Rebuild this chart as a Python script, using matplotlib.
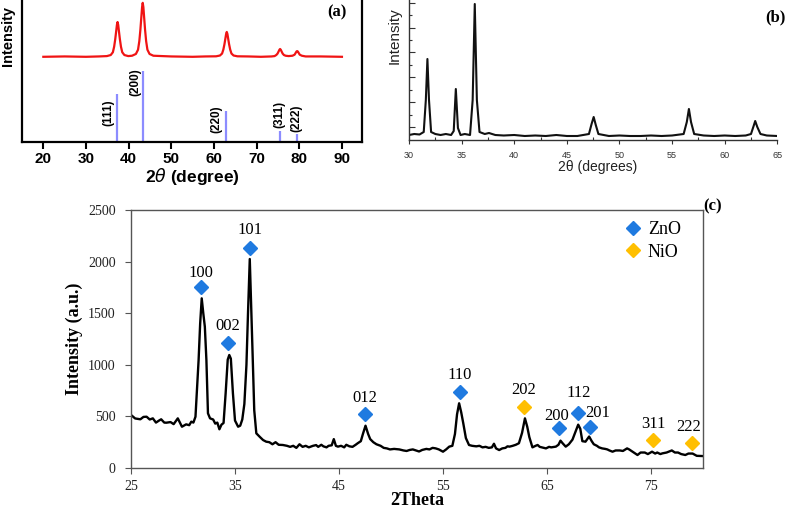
import matplotlib
matplotlib.use('Agg')
import matplotlib.pyplot as plt
from matplotlib.lines import Line2D

W, H = 793, 514

# ---------------- data: panel (a) ----------------
a_x = [20, 25, 30, 33,
       34.9, 35.8, 36.3, 36.6, 36.85, 37.1, 37.25, 37.4, 37.55, 37.7, 37.95, 38.2, 38.5, 39.0, 39.9,
       40.8, 41.7, 42.2, 42.5, 42.75, 43.0, 43.15, 43.3, 43.45, 43.6, 43.85, 44.1, 44.4, 44.9, 45.8,
       50, 55, 58,
       60.5, 61.4, 61.9, 62.2, 62.45, 62.7, 62.85, 63.0, 63.15, 63.3, 63.55, 63.8, 64.1, 64.6, 65.5,
       68, 71,
       73.5, 74.2, 74.6, 74.9, 75.15, 75.35, 75.5, 75.65, 75.85, 76.1, 76.4, 76.8, 77.5,
       78.4, 78.9, 79.15, 79.35, 79.5, 79.65, 79.85, 80.1, 80.6, 81.5,
       85, 90]
a_y = [120, 120.5, 120, 120.5,
       121, 122.5, 126.4, 134.2, 144.5, 157.2, 165, 169, 165, 157.2, 144.5, 134.2, 126.4, 122.5, 121,
       121.5, 124, 130, 142, 158, 178, 190, 196, 190, 178, 158, 142, 130, 124, 121.5,
       120.5, 120, 120.5,
       120.7, 121.8, 124.6, 130.2, 137.5, 146.6, 152.2, 155, 152.2, 146.6, 137.5, 130.2, 124.6, 121.8, 120.7,
       120.5, 120,
       120.5, 121, 122.5, 124.5, 127.5, 130, 131, 130, 127.5, 124.5, 122.5, 121.5, 121,
       121.5, 123, 125.5, 127.5, 128, 127.5, 125.5, 123, 121.5, 120.5,
       120.5, 120]
a_stick_x = [37.3, 43.3, 62.9, 75.4, 79.4]
a_stick_h = [67.6, 100, 43.7, 15.5, 11.3]
a_stick_lab = ['(111)', '(200)', '(220)', '(311)', '(222)']
a_xticks = [20, 30, 40, 50, 60, 70, 80, 90]

# ---------------- data: panel (b) ----------------
b_x = [30, 30.5, 31, 31.4, 31.6, 31.75, 31.9, 32.1, 32.5, 33, 33.5, 34.0, 34.25, 34.45, 34.65,
       34.9, 35.3, 35.8, 36.05, 36.25, 36.45, 36.7, 37.2, 37.6, 38.2, 39, 40, 41, 42, 43, 44,
       45, 46, 47.1, 47.35, 47.55, 47.75, 48.0, 49, 50, 51, 52, 53, 54, 55, 56.1, 56.4, 56.6,
       56.8, 57.1, 58, 59, 60, 61, 62, 62.5, 62.75, 62.9, 63.1, 63.4, 64, 65]
b_y = [5, 6, 5.5, 8, 40, 81, 40, 8, 6, 5, 6, 5, 9, 51, 12,
       5, 6, 5, 40, 136, 40, 8, 6, 7, 5, 4.5, 5, 4, 4.5, 4, 5,
       4, 4, 6, 16, 23, 15, 6, 4, 4.5, 4, 4, 4.5, 4, 4.5, 6, 18, 31,
       18, 6, 4.5, 4, 4.5, 4, 4.5, 6, 14, 19, 13, 6, 4.5, 4]
b_xticks = [30, 35, 40, 45, 50, 55, 60, 65]

# ---------------- data: panel (c) ----------------
c_x = [25.0, 25.4, 25.9, 26.2, 26.5, 26.8, 27.1, 27.4, 27.7, 27.9, 28.2, 28.4, 28.8, 29.1,
       29.5, 29.9, 30.3, 30.6, 30.8, 31.0, 31.2, 31.5, 31.65, 31.8, 31.95, 32.1, 32.25, 32.4,
       32.6, 32.9, 33.1, 33.3, 33.5, 33.7, 33.9, 34.1, 34.3, 34.45, 34.6, 34.8, 35.0, 35.3,
       35.5, 35.7, 35.9, 36.1, 36.25, 36.42, 36.55, 36.7, 36.85, 37.05, 37.4, 37.7, 38.0,
       38.3, 38.6, 38.9, 39.2, 39.6, 40.0, 40.3, 40.6, 40.9, 41.2, 41.5, 41.8, 42.1, 42.5,
       42.8, 43.0, 43.3, 43.5, 43.8, 44.0, 44.3, 44.5, 44.7, 44.9, 45.2, 45.5, 45.7, 46.0,
       46.3, 46.6, 46.8, 47.1, 47.3, 47.55, 47.8, 48.0, 48.3, 48.6, 49.0, 49.3, 49.6, 49.9,
       50.3, 50.8, 51.2, 51.5, 51.8, 52.1, 52.4, 52.7, 53.0, 53.4, 53.7, 54.0, 54.3, 54.6,
       55.0, 55.3, 55.6, 55.9, 56.15, 56.35, 56.55, 56.75, 56.95, 57.2, 57.5, 57.8, 58.2,
       58.5, 58.8, 59.1, 59.4, 59.7, 59.9, 60.1, 60.4, 60.7, 61.0, 61.2, 61.4, 61.7, 62.0,
       62.3, 62.6, 62.88, 63.1, 63.3, 63.6, 63.9, 64.1, 64.3, 64.5, 64.9, 65.2, 65.4, 65.85,
       66.1, 66.3, 66.5, 66.8, 67.1, 67.45, 67.7, 68.0, 68.2, 68.4, 68.7, 69.05, 69.3, 69.5,
       69.8, 70.0, 70.3, 70.6, 70.8, 71.0, 71.3, 71.6, 72.0, 72.3, 72.7, 72.9, 73.2, 73.5,
       73.7, 74.0, 74.4, 74.7, 75.1, 75.4, 75.6, 75.9, 76.1, 76.5, 77.0, 77.3, 77.6, 77.9,
       78.3, 78.6, 79.0, 79.4, 79.9]
c_y = [514, 480, 472, 495, 497, 470, 481, 440, 460, 472, 440, 439, 445, 425,
       481, 400, 423, 415, 449, 440, 497, 1046, 1400, 1644, 1500, 1369, 1046, 530,
       481, 470, 430, 440, 375, 420, 436, 724, 1050, 1095, 1060, 724, 460, 400,
       410, 470, 620, 1000, 1500, 2025, 1600, 1079, 560, 336, 300, 271, 255,
       250, 230, 250, 225, 223, 215, 205, 215, 195, 230, 205, 215, 200, 215,
       222, 205, 225, 210, 200, 215, 220, 280, 215, 207, 215, 200, 225, 210,
       205, 225, 240, 260, 330, 410, 330, 280, 250, 230, 215, 195, 190, 180,
       185, 180, 170, 165, 175, 180, 170, 160, 175, 185, 180, 195, 190, 180,
       158, 180, 207, 215, 330, 520, 627, 540, 433, 290, 223, 215, 210,
       215, 200, 205, 195, 200, 235, 190, 174, 190, 195, 210, 207, 215, 225,
       240, 340, 481, 400, 300, 200, 215, 223, 205, 200, 190, 205, 200, 207,
       225, 265, 240, 207, 230, 275, 340, 420, 380, 260, 255, 305, 260, 230,
       215, 200, 190, 185, 180, 170, 158, 170, 170, 165, 190, 180, 160, 140,
       126, 150, 150, 135, 158, 140, 150, 135, 142, 150, 170, 150, 150, 135,
       126, 140, 140, 118, 116]

zno_lab = ['100', '002', '101', '012', '110', '200', '112', '201']
zno_x = [31.7, 34.3, 36.4, 47.5, 56.6, 66.2, 68.0, 69.1]
zno_y = [1757, 1214, 2129, 523, 733, 391, 530, 400]
nio_lab = ['202', '311', '222']
nio_x = [62.8, 75.2, 78.9]
nio_y = [591, 271, 245]
c_xticks = [25, 35, 45, 55, 65, 75]
c_yticks = [0, 500, 1000, 1500, 2000, 2500]

# label offsets in pixels (styling)
zno_off = [(0, 10), (0, 12.5), (0, 14), (0, 12), (0, 13), (-2.5, 8), (0, 16.5), (8.5, 10)]
nio_off = [(0, 13), (0, 12.5), (-2.5, 12)]
a_off = [(-8.5, -5, 'top'), (-7.5, 3, 'top'), (-9.5, 6, 'top'), (0, 3, 'bottom'), (0, 2, 'bottom')]

ZNO_C = '#1f7ae0'
NIO_C = '#ffbf00'
SANS = 'Liberation Sans'
SERIF = 'Liberation Serif'

fig = plt.figure(figsize=(W / 100, H / 100), dpi=100)

# ================= panel (a) =================
ax_a = fig.add_axes([22 / W, 1 - 142 / H, 340 / W, 142 / H])
ax_a.plot(a_x, a_y, color='#f01414', lw=1.6)
ax_a.vlines(a_stick_x, 0, a_stick_h, color='#8c8cff', lw=1.6)
for x, h, lab, (dx, dy, va) in zip(a_stick_x, a_stick_h, a_stick_lab, a_off):
    ax_a.annotate(lab, (x, h), xytext=(dx, dy), textcoords='offset pixels',
                  rotation=90, ha='center', va=va, fontsize=8.5,
                  fontweight='bold', family=SANS)
ax_a.set_xlim(15, 94.7)
ax_a.set_ylim(0, 200)
ax_a.set_xticks(a_xticks)
ax_a.set_yticks([])
ax_a.tick_params(axis='x', direction='out', length=5, width=1.5, pad=2,
                 labelsize=11)
for t in ax_a.get_xticklabels():
    t.set_fontweight('bold')
    t.set_family(SANS)
ax_a.spines['top'].set_visible(False)
for s in ['left', 'bottom', 'right']:
    ax_a.spines[s].set_linewidth(1.6)
ax_a.set_xlabel(r'2$\it{\theta}$ (degree)', fontsize=12.5, fontweight='bold',
                family=SANS, labelpad=0)
fig.text(8 / W, 1 - 36 / H, 'Intensity', rotation=90, ha='center', va='center',
         fontsize=10.5, fontweight='bold', family=SANS)
fig.text(337 / W, 1 - 12 / H, '(a)', ha='center', va='center', fontsize=12,
         fontweight='bold', family=SERIF)

# ================= panel (b) =================
ax_b = fig.add_axes([409 / W, 1 - 140 / H, 368.3 / W, 140 / H])
ax_b.plot(b_x, b_y, color='#111111', lw=1.5)
ax_b.set_xlim(30, 65)
ax_b.set_ylim(0, 140)
ax_b.set_xticks(b_xticks)
ax_b.set_xticks([32.5, 37.5, 42.5, 47.5, 52.5, 57.5, 62.5], minor=True)
ax_b.set_yticks([12.5, 37.5, 62.5, 87.5, 112.5, 137.5])
ax_b.set_yticks([25, 50, 75, 100, 125], minor=True)
ax_b.set_yticklabels([])
ax_b.tick_params(axis='x', which='major', direction='out', length=3, width=0.8,
                 pad=5, labelsize=6.5, labelcolor='#333333', color='#333333')
ax_b.tick_params(axis='x', which='minor', direction='in', length=2.5, width=0.8,
                 color='#333333')
ax_b.tick_params(axis='y', which='major', direction='in', length=4, width=0.8,
                 color='#333333')
ax_b.tick_params(axis='y', which='minor', direction='in', length=2.5, width=0.8,
                 color='#333333')
for t in ax_b.get_xticklabels():
    t.set_family(SANS)
ax_b.spines['top'].set_visible(False)
ax_b.spines['right'].set_visible(False)
for s in ['left', 'bottom']:
    ax_b.spines[s].set_linewidth(1.0)
    ax_b.spines[s].set_color('#333333')
fig.text(598 / W, 1 - 167 / H, '2θ (degrees)', ha='center', va='center',
         fontsize=10, family=SANS, color='#222222')
fig.text(395 / W, 1 - 36 / H, 'Intensity', rotation=90, ha='center', va='center',
         fontsize=11, family=SANS, color='#222222')
fig.text(775 / W, 1 - 17 / H, '(b)', ha='center', va='center', fontsize=12,
         fontweight='bold', family=SERIF)

# ================= panel (c) =================
ax_c = fig.add_axes([131 / W, 46 / H, 572 / W, 258 / H])
ax_c.plot(c_x, c_y, color='black', lw=1.7, zorder=2)
ax_c.plot(zno_x, zno_y, linestyle='none', marker='D', ms=7, color=ZNO_C, zorder=3)
ax_c.plot(nio_x, nio_y, linestyle='none', marker='D', ms=7, color=NIO_C, zorder=3)
for lab, x, y, (dx, dy) in zip(zno_lab, zno_x, zno_y, zno_off):
    ax_c.annotate(lab, (x, y), xytext=(dx, dy), textcoords='offset pixels',
                  ha='center', va='baseline', fontsize=12, family=SERIF)
for lab, x, y, (dx, dy) in zip(nio_lab, nio_x, nio_y, nio_off):
    ax_c.annotate(lab, (x, y), xytext=(dx, dy), textcoords='offset pixels',
                  ha='center', va='baseline', fontsize=12, family=SERIF)
ax_c.set_xlim(25, 80)
ax_c.set_ylim(0, 2500)
ax_c.set_xticks(c_xticks)
ax_c.set_yticks(c_yticks)
ax_c.tick_params(direction='out', length=4, width=0.8, color='#555555',
                 labelsize=10, labelcolor='#222222')
ax_c.tick_params(axis='y', pad=7)
ax_c.tick_params(axis='x', pad=5)
for t in ax_c.get_xticklabels() + ax_c.get_yticklabels():
    t.set_family(SERIF)
for s in ax_c.spines.values():
    s.set_linewidth(1.0)
    s.set_color('#555555')
ax_c.set_xlabel('2Theta', fontsize=13, fontweight='bold', family=SERIF, labelpad=-1)
ax_c.set_ylabel('Intensity (a.u.)', fontsize=13, fontweight='bold', family=SERIF,
                labelpad=4)
handles = [Line2D([], [], linestyle='none', marker='D', ms=7, color=ZNO_C),
           Line2D([], [], linestyle='none', marker='D', ms=7, color=NIO_C)]
ax_c.legend(handles, ['ZnO', 'NiO'], loc='upper left', bbox_to_anchor=(0.85, 0.985),
            frameon=False, handlelength=1.0, handletextpad=0.3, labelspacing=0.3,
            borderaxespad=0, prop={'family': SERIF, 'size': 13})
fig.text(713 / W, 1 - 206 / H, '(c)', ha='center', va='center', fontsize=12,
         fontweight='bold', family=SERIF)

fig.savefig('out.png', dpi=100)
